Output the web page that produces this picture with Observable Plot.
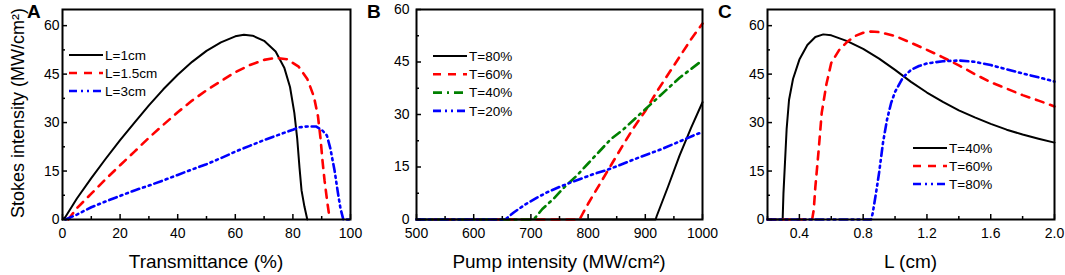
<!DOCTYPE html>
<html><head><meta charset="utf-8">
<script src="https://cdn.jsdelivr.net/npm/d3@7"></script>
<script src="https://cdn.jsdelivr.net/npm/@observablehq/plot@0.6"></script>
<style>
body{margin:0;background:#fff;}
#wrap{position:relative;width:1065px;height:275px;overflow:hidden;}
.panel{position:absolute;top:0;}
</style></head><body><div id="wrap"></div>
<script>
// ---------- DATA ----------
// Panel A: Stokes intensity vs transmittance (%)
const aNames = ["L=1cm", "L=1.5cm", "L=3cm"];
const aL1 = [[0,0],[1,0.8],[5,6.5],[10,12.8],[15,18.8],[20,24.6],[25,30],[30,35.3],[35,40.3],[40,44.8],[45,48.8],[50,52.2],[55,54.8],[60,56.7],[63,57.2],[66,56.9],[70,55.3],[74,52],[77,47],[79,41],[80.5,33],[81.5,25],[82.3,16],[83,9],[84,4],[85,0]];
const aL15 = [[2,0],[5,3.5],[10,8],[15,12.5],[20,16.8],[25,21],[30,25.3],[35,29.3],[40,33.2],[45,36.8],[50,40],[55,42.8],[60,45.6],[65,47.8],[70,49.4],[74,50],[78,49.6],[82,47.3],[85,43.5],[87.3,38],[88.7,32],[89.6,25],[90.3,18],[91,12],[92,5],[92.8,0]];
const aL3 = [[1,0],[5,1.5],[10,3.8],[15,5.6],[20,7.3],[25,9],[30,10.5],[35,12.1],[40,13.8],[45,15.5],[50,17.1],[55,19],[60,21],[65,22.8],[70,24.6],[75,26.2],[80,27.8],[82,28.5],[85,28.8],[88,28.8],[90,27.8],[91.8,26],[93,22],[94.5,15],[95.5,9],[96.5,3.5],[97.5,0],[100,0]];
const aXTicks = [0,20,40,60,80,100];
const aXMinor = [10,30,50,70,90];
const aYTicks = [0,15,30,45,60];
const aYMinor = [7.5,22.5,37.5,52.5];

// Panel B: Stokes intensity vs pump intensity
const bNames = ["T=80%", "T=60%", "T=40%", "T=20%"];
const bT80 = [[500,0],[918,0],[920,1],[940,9.5],[960,18.3],[980,26.2],[1000,33.5]];
const bT60 = [[500,0],[785,0],[790,1.5],[800,4.5],[820,10],[840,15.5],[860,21],[880,26.3],[900,31],[920,36.5],[940,41.5],[960,46.5],[980,51.5],[1000,56]];
const bT40 = [[500,0],[705,0],[720,3],[740,6],[760,9.5],[780,12.5],[800,16],[820,19.5],[840,23],[860,25.5],[880,28.5],[900,31.5],[920,34.5],[940,37.5],[960,40.5],[980,43],[1000,45.5]];
const bT20 = [[500,0],[655,0],[670,2],[690,4.3],[710,6.2],[730,7.9],[750,9.3],[770,10.6],[790,11.8],[810,13],[830,14],[850,15.2],[870,16.5],[890,17.8],[910,19],[930,20.2],[950,21.6],[970,23],[990,24.4],[1000,25]];
const bXTicks = [500,600,700,800,900,1000];
const bXMinor = [550,650,750,850,950];
const bYTicks = [0,15,30,45,60];
const bYMinor = [7.5,22.5,37.5,52.5];

// Panel C: Stokes intensity vs crystal length L (cm)
const cNames = ["T=40%", "T=60%", "T=80%"];
const cT40 = [[0.2,0],[0.295,0],[0.30,8],[0.31,18],[0.32,28],[0.335,37],[0.36,43.5],[0.4,49.5],[0.45,54],[0.5,56.5],[0.55,57.3],[0.6,57],[0.7,55.2],[0.8,52.8],[0.9,49.8],[1.0,46.3],[1.1,42.6],[1.2,39.3],[1.3,36.4],[1.4,33.8],[1.5,31.6],[1.6,29.6],[1.7,27.8],[1.8,26.3],[1.9,25],[2.0,23.8]];
const cT60 = [[0.2,0],[0.48,0],[0.49,3],[0.5,10],[0.52,21],[0.54,33],[0.57,42],[0.6,48.5],[0.65,52.5],[0.7,55],[0.75,56.8],[0.8,57.8],[0.85,58.2],[0.9,58],[1.0,56.8],[1.1,54.7],[1.2,52.5],[1.3,50.2],[1.4,47.7],[1.5,45],[1.6,42.5],[1.7,40.5],[1.8,38.5],[1.9,36.8],[2.0,35]];
const cT80 = [[0.2,0],[0.85,0],[0.86,2],[0.88,8],[0.9,14.5],[0.925,24],[0.95,31],[0.975,36],[1.0,39.5],[1.05,44],[1.1,46.3],[1.15,47.5],[1.2,48.3],[1.3,49],[1.4,49.2],[1.5,48.8],[1.6,47.8],[1.7,46.5],[1.8,45.2],[1.9,44],[2.0,42.7]];
const cXTicks = [0.4,0.8,1.2,1.6,2.0];
const cXMinor = [0.2,0.6,1.0,1.4,1.8];
const cYTicks = [0,15,30,45,60];
const cYMinor = [7.5,22.5,37.5,52.5];

// ---------- STYLES ----------
const ST = {
  black: {color: "#000000", dash: null, width: 2},
  red:   {color: "#ff0000", dash: "8,7", width: 2.6},
  green: {color: "#008000", dash: "9,5,2,5", width: 2.6},
  blue:  {color: "#0000ff", dash: "8,4,2,4,2,4", width: 2.6}
};
const FONT = "Arial, 'Liberation Sans', sans-serif";
const H = 275, MT = 9, MB = 56;

function makePanel(cfg) {
  const fw = cfg.width - cfg.marginLeft - cfg.marginRight;
  const fh = H - MT - MB;
  const marks = [];
  for (const s of cfg.series) {
    const st = ST[s.style];
    marks.push(Plot.line(s.data, {x: d => d[0], y: d => d[1], stroke: st.color, strokeWidth: st.width, strokeDasharray: st.dash || undefined}));
  }
  marks.push(Plot.tickX(cfg.xMajor, {x: d => d, insetTop: fh - 5, stroke: "#000", strokeWidth: 1.5}));
  marks.push(Plot.tickX(cfg.xMinor, {x: d => d, insetTop: fh - 3, stroke: "#000", strokeWidth: 1.5}));
  marks.push(Plot.tickY(cfg.yMajor, {y: d => d, insetRight: fw - 5, stroke: "#000", strokeWidth: 1.5}));
  marks.push(Plot.tickY(cfg.yMinor, {y: d => d, insetRight: fw - 3, stroke: "#000", strokeWidth: 1.5}));
  marks.push(Plot.axisX({ticks: cfg.xMajor, tickSize: 0, tickPadding: 9, tickFormat: cfg.xFormat, label: null, fontSize: 14}));
  marks.push(Plot.axisY({ticks: cfg.yMajor, tickSize: 0, tickPadding: cfg.yPad, tickFormat: d3.format("d"), label: null, fontSize: 14}));
  marks.push(Plot.frame({stroke: "#000", strokeWidth: 2}));
  marks.push(() => {
    const g = d3.create("svg:g").attr("font-family", FONT).attr("fill", "#000");
    g.append("text").attr("x", cfg.letterX).attr("y", 18).attr("text-anchor", "start")
      .attr("font-size", 19).attr("font-weight", "bold").text(cfg.letter);
    g.append("text").attr("x", cfg.marginLeft + fw / 2).attr("y", 268).attr("text-anchor", "middle")
      .attr("font-size", 19).text(cfg.xTitle);
    if (cfg.yTitle) {
      g.append("text").attr("transform", `translate(24,113) rotate(-90)`).attr("text-anchor", "middle")
        .attr("font-size", 18).text(cfg.yTitle);
    }
    cfg.legend.forEach((s, i) => {
      const st = ST[s.style];
      const y = cfg.legY + i * cfg.legStep;
      g.append("line").attr("x1", cfg.legX).attr("x2", cfg.legX + 34).attr("y1", y).attr("y2", y)
        .attr("stroke", st.color).attr("stroke-width", st.width).attr("stroke-dasharray", st.dash);
      g.append("text").attr("x", cfg.legX + 36).attr("y", y).attr("dy", "0.36em")
        .attr("text-anchor", "start").attr("font-size", 13.5).text(s.name);
    });
    return g.node();
  });
  const svg = Plot.plot({
    width: cfg.width, height: H,
    marginLeft: cfg.marginLeft, marginRight: cfg.marginRight, marginTop: MT, marginBottom: MB,
    x: {domain: cfg.xDomain},
    y: {domain: cfg.yDomain},
    style: {fontFamily: FONT, fontSize: "14px", color: "#000", background: "transparent", overflow: "visible"},
    marks
  });
  svg.classList.add("panel");
  svg.style.left = cfg.left + "px";
  return svg;
}

const wrap = document.getElementById("wrap");
const yTitle = "Stokes intensity (MW/cm\u00B2)";

wrap.appendChild(makePanel({
  left: 0, width: 355, marginLeft: 62, marginRight: 5, yPad: 3,
  xDomain: [0, 100], yDomain: [0, 65],
  xMajor: aXTicks, xMinor: aXMinor, yMajor: aYTicks, yMinor: aYMinor, xFormat: d3.format("d"),
  series: [{data: aL1, style: "black"}, {data: aL15, style: "red"}, {data: aL3, style: "blue"}],
  legend: [{name: aNames[0], style: "black"}, {name: aNames[1], style: "red"}, {name: aNames[2], style: "blue"}],
  legX: 69, legY: 55, legStep: 18,
  letter: "A", letterX: 27, xTitle: "Transmittance (%)", yTitle
}));
wrap.appendChild(makePanel({
  left: 355, width: 355, marginLeft: 61, marginRight: 8, yPad: 7,
  xDomain: [500, 1000], yDomain: [0, 60],
  xMajor: bXTicks, xMinor: bXMinor, yMajor: bYTicks, yMinor: bYMinor, xFormat: d3.format("d"),
  series: [{data: bT80, style: "black"}, {data: bT60, style: "red"}, {data: bT40, style: "green"}, {data: bT20, style: "blue"}],
  legend: [{name: bNames[0], style: "black"}, {name: bNames[1], style: "red"}, {name: bNames[2], style: "green"}, {name: bNames[3], style: "blue"}],
  legX: 78, legY: 56, legStep: 18.3,
  letter: "B", letterX: 12, xTitle: "Pump intensity (MW/cm\u00B2)", yTitle: null
}));
wrap.appendChild(makePanel({
  left: 710, width: 355, marginLeft: 57, marginRight: 11, yPad: 3,
  xDomain: [0.2, 2.0], yDomain: [0, 65],
  xMajor: cXTicks, xMinor: cXMinor, yMajor: cYTicks, yMinor: cYMinor, xFormat: d3.format(".1f"),
  series: [{data: cT40, style: "black"}, {data: cT60, style: "red"}, {data: cT80, style: "blue"}],
  legend: [{name: cNames[0], style: "black"}, {name: cNames[1], style: "red"}, {name: cNames[2], style: "blue"}],
  legX: 203, legY: 148, legStep: 18,
  letter: "C", letterX: 8, xTitle: "L (cm)", yTitle: null
}));
</script></body></html>
